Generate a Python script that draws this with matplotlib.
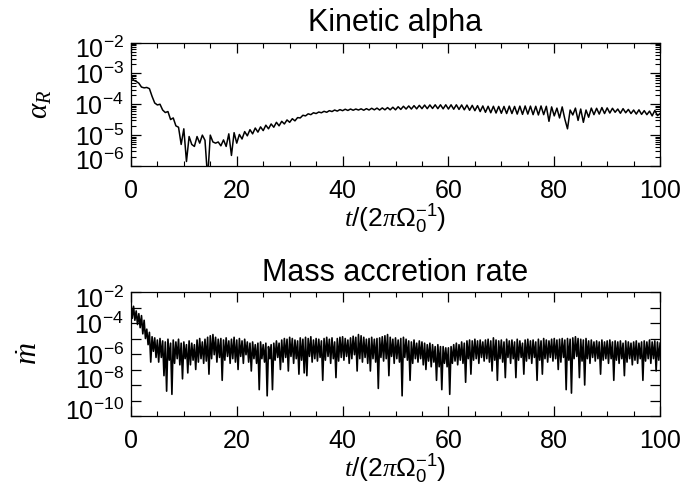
import matplotlib
matplotlib.use("Agg")
import matplotlib.pyplot as plt
import matplotlib.ticker as mticker
import matplotlib.transforms as mtransforms
import numpy as np

plt.rcParams.update({
    "font.family": "Liberation Sans",
    "mathtext.fontset": "custom",
    "mathtext.rm": "Liberation Sans",
    "mathtext.it": "Liberation Serif:italic",
    "mathtext.bf": "Liberation Sans:bold",
    "axes.linewidth": 0.9,
    "xtick.direction": "in",
    "ytick.direction": "in",
    "xtick.top": True,
    "ytick.right": True,
})

# Kinetic alpha, sampled every 0.5 orbits (0 .. 100)
alpha_r = [
    8.5e-4, 6.0e-4, 5.5e-4, 4.8e-4, 3.6e-4, 3.4e-4, 3.5e-4, 3.2e-4, 1.8e-4, 1.1e-4,
    9.5e-5, 1.0e-4, 6.5e-5, 5.4e-5, 5.8e-5, 3.2e-5, 3.6e-5, 2.0e-5, 1.8e-5, 5.0e-6,
    1.6e-5, 1.4e-6, 9.0e-6, 5.0e-6, 4.3e-6, 9.0e-6, 5.5e-6, 1.0e-5, 6.8e-6, 4.0e-7,
    1.0e-5, 6.0e-6, 5.5e-6, 6.0e-6, 4.5e-6, 7.0e-6, 4.3e-6, 1.1e-5, 2.2e-6, 1.2e-5,
    5.5e-6, 1.05e-5, 7.5e-6, 1.3e-5, 9.5e-6, 1.5e-5, 1.1e-5, 1.7e-5, 1.25e-5, 1.85e-5,
    1.4e-5, 2.1e-5, 1.6e-5, 2.3e-5, 1.8e-5, 2.6e-5, 2.0e-5, 2.8e-5, 2.3e-5, 3.1e-5,
    2.6e-5, 3.4e-5, 2.9e-5, 3.7e-5, 3.6e-5, 4.4e-5, 4.2e-5, 4.9e-5, 4.6e-5, 5.3e-5,
    5.0e-5, 5.6e-5, 5.3e-5, 5.9e-5, 5.5e-5, 6.2e-5, 5.8e-5, 6.5e-5, 6.0e-5, 6.7e-5,
    6.2e-5, 6.9e-5, 6.3e-5, 7.0e-5, 6.4e-5, 7.0e-5, 6.5e-5, 7.1e-5, 6.4e-5, 7.2e-5,
    6.5e-5, 7.4e-5, 6.6e-5, 7.5e-5, 6.5e-5, 7.6e-5, 6.6e-5, 7.8e-5, 6.6e-5, 8.0e-5,
    6.6e-5, 8.3e-5, 6.8e-5, 8.6e-5, 7.0e-5, 8.8e-5, 7.0e-5, 9.0e-5, 7.1e-5, 9.2e-5,
    7.2e-5, 9.4e-5, 7.2e-5, 9.5e-5, 7.3e-5, 9.6e-5, 7.2e-5, 9.6e-5, 7.1e-5, 9.6e-5,
    7.0e-5, 9.6e-5, 6.9e-5, 9.6e-5, 6.8e-5, 9.5e-5, 6.6e-5, 9.4e-5, 6.4e-5, 9.2e-5,
    6.2e-5, 9.0e-5, 5.8e-5, 8.8e-5, 5.5e-5, 8.6e-5, 5.3e-5, 8.6e-5, 5.2e-5, 8.5e-5,
    5.1e-5, 8.5e-5, 5.0e-5, 8.7e-5, 5.0e-5, 8.5e-5, 4.8e-5, 8.7e-5, 4.7e-5, 8.8e-5,
    4.8e-5, 8.7e-5, 4.6e-5, 8.6e-5, 4.5e-5, 8.8e-5, 4.6e-5, 8.6e-5, 2.8e-5, 8.2e-5,
    4.2e-5, 7.5e-5, 3.6e-5, 8.2e-5, 3.3e-5, 1.6e-5, 6.5e-5, 4.5e-5, 7.5e-5, 3.0e-5,
    7.0e-5, 2.6e-5, 6.5e-5, 3.8e-5, 7.5e-5, 4.6e-5, 7.4e-5, 4.8e-5, 7.8e-5, 5.0e-5,
    7.6e-5, 5.2e-5, 7.4e-5, 5.5e-5, 7.0e-5, 5.1e-5, 7.2e-5, 5.3e-5, 6.8e-5, 5.0e-5,
    6.5e-5, 4.8e-5, 6.6e-5, 4.7e-5, 6.2e-5, 4.6e-5, 6.0e-5, 4.2e-5, 6.3e-5, 4.3e-5,
    5.0e-5,
]

# Mass accretion rate, sampled every 0.25 orbits (0 .. 100)
mdot = [
    2e-3, 2e-4, 1.2e-3, 1.5e-4, 6e-4, 8e-5, 4e-4, 5e-5, 3e-4, 2e-5,
    1.5e-4, 1e-5, 4e-5, 4e-6, 2.5e-5, 3e-7, 1.3e-5, 1.5e-6, 1.1e-5, 6e-7,
    8e-6, 3e-7, 1e-5, 6e-7, 7e-6, 4e-8, 6e-6, 4e-9, 9e-6, 4e-7,
    5e-6, 2.5e-9, 8e-6, 2.5e-7, 6e-6, 5e-7, 9e-6, 2e-7, 5e-6, 2.5e-8,
    6e-6, 5e-7, 4e-6, 6e-8, 7e-6, 2e-7, 5e-6, 4e-7, 4e-6, 1e-7,
    8e-6, 3e-7, 1e-5, 5e-7, 6e-6, 2.5e-7, 9e-6, 3.5e-7, 1.2e-5, 5e-8,
    1.5e-5, 5e-7, 1.8e-5, 9e-7, 1.2e-5, 3e-7, 9e-6, 6e-7, 1e-5, 2e-8,
    8e-6, 4e-7, 1.1e-5, 7e-7, 7e-6, 2.5e-7, 9e-6, 5e-7, 1.2e-5, 3e-7,
    8e-6, 1e-7, 1e-5, 7e-7, 7e-6, 2.5e-7, 9e-6, 9e-7, 6e-6, 3e-7,
    5e-6, 8e-8, 6e-6, 5e-7, 4e-6, 2.5e-7, 5e-6, 5e-9, 6e-6, 5e-7,
    4e-6, 3e-7, 5e-6, 2e-9, 3e-6, 5e-7, 4e-6, 5e-9, 5e-6, 4e-7,
    7e-6, 6e-7, 5e-6, 1e-7, 8e-6, 3e-7, 1e-5, 6e-7, 9e-6, 8e-8,
    1.2e-5, 7e-7, 1e-5, 2.5e-7, 8e-6, 5e-7, 7e-6, 5e-8, 1.1e-5, 4e-7,
    9e-6, 6e-8, 1.2e-5, 4e-8, 1e-5, 7e-7, 1.3e-5, 3e-7, 8e-6, 5e-7,
    1e-5, 3.5e-7, 9e-6, 6e-7, 7e-6, 2e-8, 1e-5, 4e-7, 1.2e-5, 7e-7,
    9e-6, 2.5e-7, 1.1e-5, 5e-7, 6e-6, 3e-8, 1e-5, 3.5e-7, 1.2e-5, 6e-7,
    1.3e-5, 4e-7, 1e-5, 7e-7, 8e-6, 2.5e-7, 1.1e-5, 5e-7, 1.4e-5, 9e-7,
    1.2e-5, 8e-8, 1.8e-5, 5e-7, 1.5e-5, 3e-7, 1.2e-5, 6e-7, 9e-6, 2.5e-7,
    1e-5, 8e-8, 1.2e-5, 5e-7, 9e-6, 3e-7, 1e-5, 6e-9, 1.1e-5, 6e-7,
    1.3e-5, 3.5e-7, 1.5e-5, 5e-7, 1.8e-5, 4e-8, 1.2e-5, 7e-7, 9e-6, 2.5e-7,
    1.1e-5, 5e-7, 8e-6, 3e-7, 1e-5, 2e-9, 1.2e-5, 6e-7, 9e-6, 4e-7,
    7e-6, 2e-8, 6e-6, 2.5e-7, 8e-6, 5e-7, 5e-6, 3e-7, 7e-6, 5e-7,
    6e-6, 2e-7, 5e-6, 1e-7, 4e-6, 3.5e-7, 5e-6, 1.5e-7, 4e-6, 3e-7,
    3e-6, 2e-8, 4e-6, 1.5e-7, 3e-6, 5e-9, 3e-6, 2.5e-7, 2.5e-6, 1.5e-7,
    2.5e-6, 2.5e-9, 3e-6, 2.5e-7, 4e-6, 3.5e-7, 5e-6, 2e-7, 4e-6, 4e-7,
    6e-6, 2.5e-7, 5e-6, 1.5e-8, 7e-6, 5e-7, 8e-6, 5e-8, 7e-6, 4e-7,
    9e-6, 5e-7, 7e-6, 2.5e-7, 8e-6, 6e-7, 6e-6, 3.5e-7, 8e-6, 5e-7,
    9e-6, 3e-7, 7e-6, 8e-8, 1.1e-5, 4e-7, 8e-6, 2e-8, 7e-6, 5e-7,
    8e-6, 3e-7, 6e-6, 3e-8, 9e-6, 6e-7, 7e-6, 2.5e-7, 8e-6, 5e-7,
    6e-6, 3e-8, 9e-6, 4e-7, 7e-6, 6e-7, 5e-6, 5e-8, 8e-6, 3.5e-7,
    9e-6, 5e-7, 7e-6, 2.5e-7, 8e-6, 6e-7, 6e-6, 2e-8, 9e-6, 4e-7,
    7e-6, 5e-8, 1e-5, 5e-7, 8e-6, 3e-7, 7e-6, 6e-7, 9e-6, 3.5e-7,
    1e-5, 5e-7, 8e-6, 1e-7, 9e-6, 3e-7, 1e-5, 6e-7, 8e-6, 5e-9,
    1e-5, 4e-7, 9e-6, 3e-9, 1.1e-5, 5e-7, 1.3e-5, 7e-7, 1e-5, 3e-8,
    9e-6, 3.5e-7, 8e-6, 1e-8, 1e-5, 5e-7, 7e-6, 2.5e-7, 8e-6, 6e-7,
    6e-6, 3.5e-7, 7e-6, 5e-7, 6e-6, 5e-8, 8e-6, 4e-7, 6e-6, 5e-7,
    7e-6, 2.5e-7, 8e-6, 5e-7, 6e-6, 2e-8, 7e-6, 4e-7, 6e-6, 2.5e-7,
    7e-6, 5e-7, 5e-6, 4e-8, 7e-6, 3e-7, 6e-6, 5e-7, 5e-6, 2e-7,
    6e-6, 4e-7, 7e-6, 2.5e-7, 5e-6, 5e-7, 6e-6, 2e-8, 7e-6, 3.5e-7,
    6e-6, 5e-7, 8e-6, 2.5e-7, 6e-6, 5e-7, 7e-6, 8e-8, 6e-6, 4e-7,
    5e-6,
]

t_alpha = np.linspace(0, 100, len(alpha_r))
t_mdot = np.linspace(0, 100, len(mdot))

XLABEL = r"$t/(2\pi\Omega_0^{-1})$"


def style_axis(ax, ylim, even_only):
    ax.set_xlim(0, 100)
    ax.set_yscale("log")
    ax.set_ylim(*ylim)
    ax.xaxis.set_major_locator(mticker.MultipleLocator(20))
    ax.xaxis.set_minor_locator(mticker.MultipleLocator(5))
    ax.yaxis.set_major_locator(mticker.LogLocator(base=10, subs=(1.0,), numticks=20))
    if even_only:
        ax.yaxis.set_minor_locator(mticker.NullLocator())
        ax.yaxis.set_major_formatter(mticker.FuncFormatter(
            lambda v, pos: "" if round(np.log10(v)) % 2 else
            r"$\mathdefault{10^{%d}}$" % round(np.log10(v))))
    else:
        ax.yaxis.set_minor_locator(mticker.LogLocator(base=10, subs=np.arange(2, 10), numticks=20))
        ax.yaxis.set_minor_formatter(mticker.NullFormatter())
    ax.tick_params(which="major", length=7, width=0.9, labelsize=18, pad=5)
    ax.tick_params(axis="x", which="major", pad=9)
    ax.tick_params(which="minor", length=3.5, width=0.8)
    ax.set_xlabel(XLABEL, fontsize=19, labelpad=0)


fig = plt.figure(figsize=(7, 5), dpi=100)
ax1 = fig.add_axes([0.187, 0.668, 0.756, 0.247])
ax2 = fig.add_axes([0.187, 0.168, 0.756, 0.248])

# top panel
ax1.plot(t_alpha, alpha_r, color="black", linewidth=1.1)
style_axis(ax1, (1e-6, 1e-2), even_only=False)
ax1.set_title("Kinetic alpha", fontsize=22, pad=8)
ax1.set_ylabel(r"$\alpha_R$", fontsize=21)
ax1.yaxis.set_label_coords(-0.145, 0.5)

# bottom panel
ax2.plot(t_mdot, mdot, color="black", linewidth=1.2)
style_axis(ax2, (1e-10, 1e-2), even_only=True)
ax2.set_title("Mass accretion rate", fontsize=22, pad=8)
ax2.set_ylabel(r"$\dot{m}$", fontsize=22)
ax2.yaxis.set_label_coords(-0.165, 0.5)

# nudge the end labels inward like the original layout
fig.canvas.draw()
for ax in (ax1, ax2):
    lo, hi = ax.get_ylim()
    for tick in ax.yaxis.get_major_ticks():
        y = tick.get_loc()
        lab = tick.label1
        if np.isclose(y, hi):
            lab.set_transform(lab.get_transform() + mtransforms.ScaledTranslation(0, -5 / 100, fig.dpi_scale_trans))
        elif np.isclose(y, lo):
            lab.set_transform(lab.get_transform() + mtransforms.ScaledTranslation(0, 7 / 100, fig.dpi_scale_trans))

fig.savefig("out.png", dpi=100)
